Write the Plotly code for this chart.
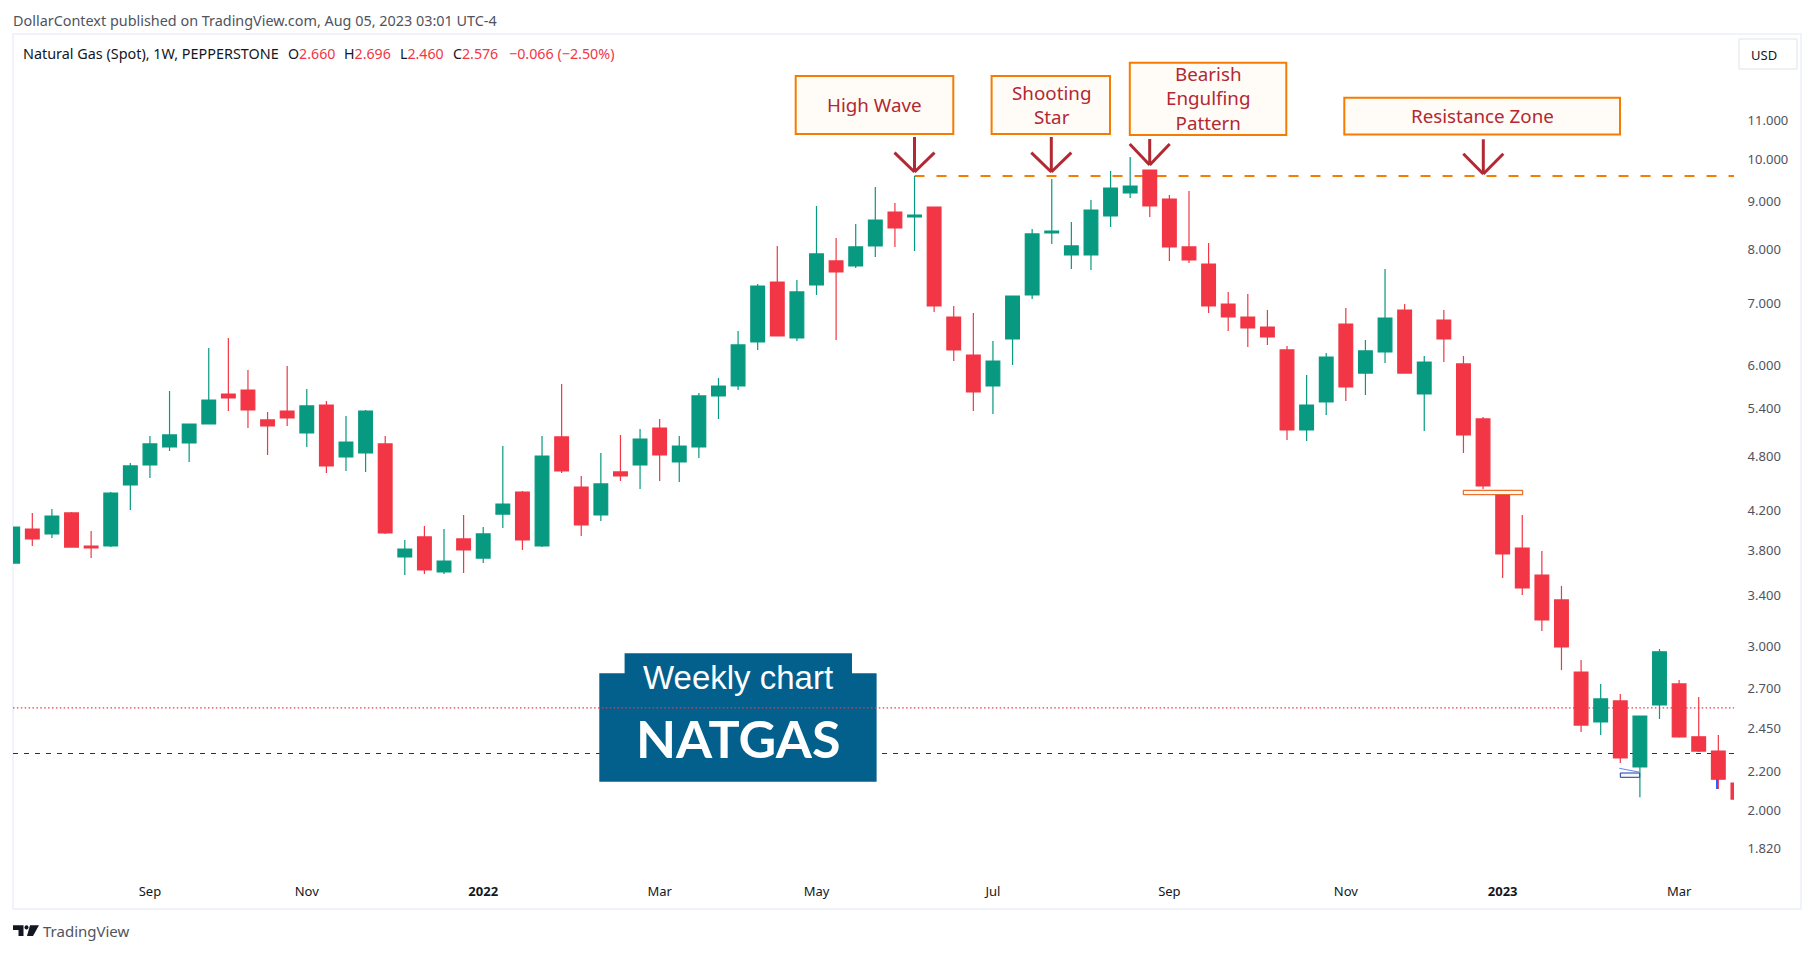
import math
import pandas as pd
import plotly.graph_objects as go

WEEK_COUNT = 89
START_DATE = "2021-07-19"
opens = [3.685,4.009,3.960,4.171,3.844,3.844,4.470,4.697,4.910,4.959,5.197,5.597,5.653,5.249,5.367,5.083,5.447,4.790,4.838,4.947,
         3.741,3.931,3.605,3.912,3.731,4.160,4.393,3.844,5.033,4.447,4.150,4.616,4.697,5.146,4.732,4.910,5.570,5.709,6.366,7.383,
         6.429,7.329,7.777,7.681,8.071,8.777,8.670,8.887,6.771,6.164,5.709,6.413,7.150,8.334,7.893,7.893,8.691,9.200,9.738,9.064,
         8.051,7.719,6.992,6.771,6.605,6.241,5.121,5.488,6.655,5.895,6.210,6.889,5.597,6.721,6.029,5.262,4.404,3.825,3.578,3.364,
         2.815,2.488,2.621,2.226,2.595,2.733,2.398,2.315,2.139]
highs = [4.028,4.171,4.212,4.181,3.989,4.393,4.720,5.046,5.639,5.197,6.272,6.429,5.939,5.354,5.998,5.667,5.501,5.302,5.380,5.046,
         3.902,4.039,4.009,4.150,4.028,4.922,4.404,5.046,5.738,4.570,4.838,5.058,5.134,5.262,5.046,5.611,5.823,6.541,7.347,8.071,
         7.420,8.909,8.232,8.522,9.337,8.975,9.595,8.887,6.958,6.838,6.381,7.132,8.417,9.523,8.564,9.042,9.714,10.057,9.738,9.154,
         9.245,8.130,7.203,7.168,6.889,6.303,5.866,6.195,6.923,6.397,7.624,6.992,6.148,6.889,6.148,5.288,4.404,4.150,3.797,3.482,
         2.900,2.733,2.666,2.525,2.980,2.760,2.647,2.409,2.139]
lows = [3.685,3.844,3.921,3.834,3.731,3.834,4.202,4.547,4.862,4.732,5.197,5.367,5.146,4.814,5.172,4.910,4.605,4.628,4.616,3.960,
        3.578,3.587,3.587,3.596,3.685,4.019,3.806,3.834,4.605,3.941,4.089,4.514,4.426,4.514,4.503,4.778,5.262,5.653,6.241,6.461,
        6.381,7.150,6.397,7.643,7.854,8.051,7.971,6.855,6.073,5.367,5.327,6.014,7.080,8.110,7.624,7.605,8.458,9.087,8.670,7.777,
        7.739,6.838,6.541,6.287,6.319,4.996,4.984,5.314,5.501,5.584,6.043,5.895,5.108,6.058,4.838,4.426,3.552,3.406,3.115,2.829,
        2.427,2.409,2.248,2.066,2.506,2.392,2.310,2.108,2.056]
closes = [4.028,3.912,4.139,3.834,3.825,4.382,4.685,4.947,5.058,5.197,5.515,5.542,5.380,5.172,5.275,5.434,4.685,4.971,5.367,3.970,
          3.815,3.623,3.704,3.806,3.960,4.264,3.902,4.802,4.628,4.049,4.481,4.570,5.008,4.814,4.922,5.570,5.709,6.319,7.310,6.461,
          7.203,7.913,7.568,8.051,8.606,8.437,8.713,6.958,6.241,5.625,6.073,7.132,8.314,8.375,8.071,8.821,9.314,9.360,8.909,8.051,
          7.796,6.958,6.771,6.589,6.445,5.121,5.447,6.133,5.695,6.226,6.754,5.895,6.058,6.413,5.058,4.459,3.769,3.465,3.202,2.995,
          2.469,2.634,2.276,2.525,2.959,2.398,2.315,2.160,2.056]
y_tick_values = [11, 10, 9, 8, 7, 6, 5.4, 4.8, 4.2, 3.8, 3.4, 3, 2.7, 2.45, 2.2, 2, 1.82]
y_tick_labels = ["11.000","10.000","9.000","8.000","7.000","6.000","5.400","4.800","4.200","3.800","3.400","3.000","2.700","2.450","2.200","2.000","1.820"]
x_tick_dates = ["2021-09-06","2021-11-01","2022-01-03","2022-03-07","2022-05-02","2022-07-04","2022-09-05","2022-11-07","2023-01-02","2023-03-06"]
x_tick_labels = ["Sep","Nov","<b>2022</b>","Mar","May","Jul","Sep","Nov","<b>2023</b>","Mar"]
resistance_level = 9.594
last_close_level = 2.576
support_level = 2.3013

GREEN, RED = "#089981", "#f23645"
ORANGE, MAROON = "#f57c00", "#b22833"
FONT = "Noto Sans"
W, H = 1814, 953
PL, PR, PT, PB = 13, 1734, 35, 875
LOG_LO, LOG_HI = 0.23152, 1.13342
I0, I1 = 0.015, 87.8

dates = pd.date_range(START_DATE, periods=WEEK_COUNT, freq="7D")
week = pd.Timedelta(days=7)

def px(x): return (x - PL) / (PR - PL)
def py(y): return (PB - y) / (PB - PT)
def price_y(v): return (math.log10(v) - LOG_LO) / (LOG_HI - LOG_LO)
def idx_x(i): return (i - I0) / (I1 - I0)

fig = go.Figure(go.Candlestick(
    x=dates, open=opens, high=highs, low=lows, close=closes,
    whiskerwidth=0,
    increasing=dict(line=dict(color=GREEN, width=1.2), fillcolor=GREEN),
    decreasing=dict(line=dict(color=RED, width=1.2), fillcolor=RED),
    showlegend=False, hoverinfo="skip"))

shapes = []
def rect(x0, y0, x1, y1, fill="rgba(0,0,0,0)", line=None, width=0, layer="above"):
    shapes.append(dict(type="rect", xref="paper", yref="paper", x0=px(x0), x1=px(x1), y0=py(y0), y1=py(y1),
                       fillcolor=fill, line=dict(color=line or "rgba(0,0,0,0)", width=width), layer=layer))
def seg(x0, y0, x1, y1, color, width, dash="solid", layer="above"):
    shapes.append(dict(type="line", xref="paper", yref="paper", x0=px(x0), x1=px(x1), y0=py(y0), y1=py(y1),
                       line=dict(color=color, width=width, dash=dash), layer=layer))
def path(points, fill, layer="above"):
    d = "M " + " L ".join(f"{px(a):.5f},{py(b):.5f}" for a, b in points) + " Z"
    shapes.append(dict(type="path", xref="paper", yref="paper", path=d, fillcolor=fill, line=dict(width=0), layer=layer))

# frame
rect(13, 34, 1801, 909, line="#f0f3fa", width=2, layer="below")
# reference lines
shapes.append(dict(type="line", xref="paper", yref="paper", x0=0, x1=1, y0=price_y(support_level), y1=price_y(support_level),
                   line=dict(color="#132f8c", width=1.2, dash="5px,6px"), layer="below"))
# weekly chart badge
path([(624.6,653.3),(852,653.3),(852,673.3),(876.6,673.3),(876.6,781.7),(599.3,781.7),(599.3,673.3),(624.6,673.3)], "#03608c", layer="below")
shapes.append(dict(type="line", xref="paper", yref="paper", x0=0, x1=1, y0=price_y(last_close_level), y1=price_y(last_close_level),
                   line=dict(color=RED, width=1.2, dash="1.5px,2.4px"), layer="below"))
shapes.append(dict(type="line", xref="paper", yref="paper", x0=idx_x(46), x1=1, y0=price_y(resistance_level), y1=price_y(resistance_level),
                   line=dict(color=ORANGE, width=2, dash="10px,12px"), layer="below"))
# label boxes
for b in [(795.7,76,953.3,134),(991.6,76,1110,134),(1129.8,62.7,1286.3,135),(1344.3,97.7,1620,134.5)]:
    rect(*b, fill="#fffcf7", line=ORANGE, width=2)
# arrows
for x, top, tip, dx, ay in [(914.5,137,172,20,152.7),(1051.3,137,172,20,152.7),(1149.7,139,165,20,144),(1483.3,139.3,174,20,153.7)]:
    seg(x, top, x, tip, MAROON, 3)
    seg(x-dx, ay, x, tip, MAROON, 3)
    seg(x+dx, ay, x, tip, MAROON, 3)
# small marks
rect(1463.3, 490.3, 1522.7, 494.7, fill="#fff8f0", line="#e65100", width=1)
rect(1620.3, 773, 1639.7, 777.3, fill="#f5f8ff", line="#1a3a9c", width=1)
seg(1619.3, 768.3, 1640, 772.3, "#5a86ff", 1)
seg(1717, 779, 1717, 789, "#2962ff", 2)
# USD button
shapes.append(dict(type="rect", xref="paper", yref="paper", x0=px(1739), x1=px(1797), y0=py(39), y1=py(69),
                   fillcolor="white", line=dict(color="#e0e3eb", width=1), layer="below"))
# TradingView logo
path([(13,925.3),(23.5,925.3),(23.5,936),(18.5,936),(18.5,930),(13,930)], "#131722")
path([(30,925.3),(39,925.3),(33,936),(27,936)], "#131722")
shapes.append(dict(type="circle", xref="paper", yref="paper", x0=px(24.5), x1=px(28.5), y0=py(925.3), y1=py(929.5), fillcolor="#131722", line=dict(width=0)))

annos = []
def text(x, y, s, size=13, color="#50535e", anchor="left", family=FONT):
    annos.append(dict(x=px(x), y=py(y), xref="paper", yref="paper", text=s, showarrow=False, xanchor=anchor, yanchor="middle",
                      font=dict(family=family, size=size, color=color), borderpad=0, borderwidth=0))

text(13, 20, "DollarContext published on TradingView.com, Aug 05, 2023 03:01 UTC-4", 14.4)
text(23, 53.5, "Natural Gas (Spot), 1W, PEPPERSTONE", 14.4, "#131722")
for x, label, value in [(288,"O","2.660"),(344,"H","2.696"),(400,"L","2.460"),(453,"C","2.576")]:
    text(x, 53.5, f"{label}<span style='color:{RED}'>{value}</span>", 14.2, "#131722")
text(509, 53.5, "−0.066 (−2.50%)", 14.3, RED)
text(1750.5, 54.5, "USD", 13, "#131722")
text(874.5, 105, "High Wave", 18.8, MAROON, "center")
text(1051, 105, "Shooting<br>Star", 18.8, MAROON, "center")
text(1208, 99, "Bearish<br>Engulfing<br>Pattern", 18.8, MAROON, "center")
text(1482, 116, "Resistance Zone", 18.8, MAROON, "center")
text(738, 677, "Weekly chart", 33, "white", "center", "Liberation Sans")
text(738, 738, "<b>NATGAS</b>", 52, "white", "center", "Lato")
text(42.5, 931, "TradingView", 15, "#50535e")

fig.update_layout(
    width=W, height=H, autosize=False, paper_bgcolor="white", plot_bgcolor="rgba(0,0,0,0)",
    margin=dict(l=PL, r=W-PR, t=PT, b=H-PB), showlegend=False, boxgap=0.3, boxgroupgap=0,
    shapes=shapes, annotations=annos, hovermode=False,
    xaxis=dict(type="date", range=[dates[0] + I0 * week, dates[0] + I1 * week], rangeslider_visible=False,
               showgrid=False, zeroline=False, showline=False, tickvals=x_tick_dates, ticktext=x_tick_labels,
               ticks="outside", ticklen=4.5, tickcolor="rgba(0,0,0,0)", tickfont=dict(family=FONT, size=13, color="#131722")),
    yaxis=dict(type="log", range=[LOG_LO, LOG_HI], side="right", showgrid=False, zeroline=False, showline=False,
               tickvals=y_tick_values, ticktext=y_tick_labels, ticks="outside", ticklen=10, tickcolor="rgba(0,0,0,0)",
               tickfont=dict(family=FONT, size=13, color="#50535e")),
)
fig.write_html("out.html", config={"displayModeBar": False}, post_script="document.body.style.margin='0';")
